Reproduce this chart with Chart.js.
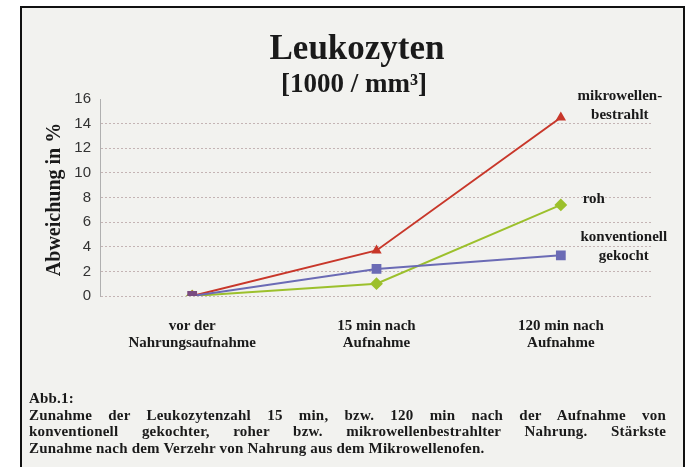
<!DOCTYPE html>
<html>
<head>
<meta charset="utf-8">
<script src="https://cdn.jsdelivr.net/npm/chart.js@4/dist/chart.umd.min.js"></script>
<style>
  html, body { margin: 0; padding: 0; background: #ffffff; }
  #wrap { position: relative; width: 698px; height: 467px; overflow: hidden; background: #ffffff; }
  #frame { position: absolute; left: 20px; top: 6px; width: 661px; height: 470px;
           border: 2px solid #111; border-bottom: none; background: #f2f2ef; }
  #c { position: absolute; left: 0; top: 0; }
  #caption { position: absolute; left: 29px; top: 390px; width: 637px;
             font: bold 15px "Liberation Serif", "DejaVu Serif", serif; color: #1a1a1a;
             line-height: 16.5px; letter-spacing: 0.2px; }
  #caption div { text-align: justify; text-align-last: justify; white-space: nowrap; }
  #caption div.first { text-align-last: left; }
</style>
</head>
<body>
<div id="wrap">
  <div id="frame"></div>
  <canvas id="c" width="698" height="467"></canvas>
  <div id="caption">
    <div class="first">Abb.1:</div>
    <div>Zunahme der Leukozytenzahl 15 min, bzw. 120 min nach der Aufnahme von</div>
    <div>konventionell gekochter, roher bzw. mikrowellenbestrahlter Nahrung. Stärkste</div>
    <div class="first">Zunahme nach dem Verzehr von Nahrung aus dem Mikrowellenofen.</div>
  </div>
</div>
<script>
// ---- data ----
const categories = [["vor der", "Nahrungsaufnahme"], ["15 min nach", "Aufnahme"], ["120 min nach", "Aufnahme"]];
const mikrowellen = [0, 3.7, 14.5];
const roh = [0, 1.0, 7.4];
const konventionell = [0, 2.2, 3.3];
const seriesNames = ["mikrowellen-\nbestrahlt", "roh", "konventionell\ngekocht"];
const yTicks = [0, 2, 4, 6, 8, 10, 12, 14, 16];
const titleText = "Leukozyten";
const subtitleText = "[1000 / mm³]";
const yTitle = "Abweichung in %";

const serif = '"Liberation Serif", "DejaVu Serif", serif';

const decor = {
  id: 'decor',
  afterDatasetsDraw(chart) {
    const ctx = chart.ctx;
    const area = chart.chartArea;
    ctx.save();
    ctx.fillStyle = '#1a1a1a';
    ctx.textAlign = 'center';
    ctx.textBaseline = 'alphabetic';
    ctx.font = 'bold 35px ' + serif;
    ctx.fillText(titleText, 357, 59);
    ctx.font = 'bold 27px ' + serif;
    ctx.fillText(subtitleText, 354, 92);

    // y title
    ctx.save();
    ctx.translate(55, (area.top + area.bottom) / 2 + 2);
    ctx.rotate(-Math.PI / 2);
    ctx.textBaseline = 'middle';
    ctx.font = 'bold 20px ' + serif;
    ctx.fillText(yTitle, 0, 0);
    ctx.restore();

    // series labels near last points
    const offsets = [{dx: 59, dy: -21}, {dx: 33, dy: -6}, {dx: 63, dy: -18}];
    ctx.font = 'bold 15px ' + serif;
    ctx.textBaseline = 'middle';
    chart.data.datasets.forEach((ds, i) => {
      const meta = chart.getDatasetMeta(i);
      const pt = meta.data[meta.data.length - 1];
      const lines = seriesNames[i].split('\n');
      lines.forEach((ln, j) => {
        ctx.fillText(ln, pt.x + offsets[i].dx, pt.y + offsets[i].dy + j * 19);
      });
    });
    ctx.restore();
  }
};

new Chart(document.getElementById('c'), {
  type: 'line',
  data: {
    labels: categories,
    datasets: [
      { label: 'mikrowellenbestrahlt', data: mikrowellen, borderColor: '#c8372a', backgroundColor: '#c8372a',
        borderWidth: 2, pointStyle: 'triangle', pointRadius: 4, pointHoverRadius: 4, tension: 0, order: 2 },
      { label: 'roh', data: roh, borderColor: '#9cc02c', backgroundColor: '#9cc02c',
        borderWidth: 2, pointStyle: 'rectRot', pointRadius: 5, pointHoverRadius: 5, tension: 0, order: 3 },
      { label: 'konventionell gekocht', data: konventionell, borderColor: '#6b6bb5',
        backgroundColor: ['#7a4c80', '#6b6bb5', '#6b6bb5'],
        pointBorderColor: ['#7a4c80', '#6b6bb5', '#6b6bb5'],
        borderWidth: 2, pointStyle: 'rect', pointRadius: 5.5, pointHoverRadius: 5.5, tension: 0, order: 1 }
    ]
  },
  options: {
    responsive: false,
    animation: false,
    devicePixelRatio: 1,
    layout: { padding: { left: 60, right: 45, top: 99, bottom: 111 } },
    plugins: { legend: { display: false }, tooltip: { enabled: false }, title: { display: false } },
    scales: {
      x: {
        offset: true,
        grid: { display: false, drawTicks: false },
        border: { display: false },
        ticks: { color: '#1a1a1a', padding: 22, maxRotation: 0, autoSkip: false,
                 font: { family: serif, size: 15, weight: 'bold', lineHeight: 1.13 } },
        afterFit(scale) { scale.height = 60; }
      },
      y: {
        min: 0, max: 16,
        afterBuildTicks(scale) { scale.ticks = yTicks.map(v => ({ value: v })); },
        grid: {
          drawTicks: false,
          color: (c) => (c.tick && c.tick.value === 16) ? 'rgba(0,0,0,0)' : '#c4b4b4',
          lineWidth: 1
        },
        border: { display: true, color: '#b0b0b0', width: 1, dash: [2, 2] },
        ticks: { color: '#333333', padding: 9, font: { family: '"Liberation Sans", Arial, sans-serif', size: 15 } },
        afterFit(scale) { scale.width = 40; }
      }
    }
  },
  plugins: [decor]
});
</script>
</body>
</html>
